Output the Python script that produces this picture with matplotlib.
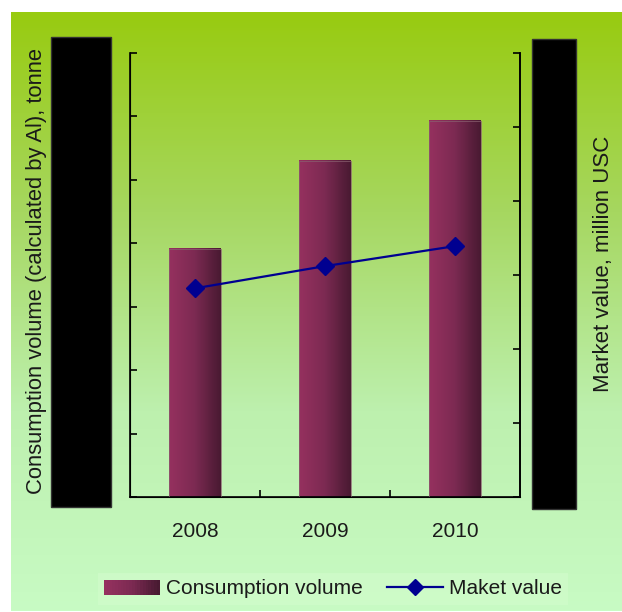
import numpy as np
import matplotlib
matplotlib.use('Agg')
import matplotlib.pyplot as plt
from matplotlib.patches import Rectangle
from matplotlib.lines import Line2D
from matplotlib.colors import LinearSegmentedColormap
from matplotlib.legend_handler import HandlerBase

plt.rcParams['font.family'] = ['Liberation Sans', 'DejaVu Sans']

years = ['2008', '2009', '2010']
consumption = [39100, 53000, 59300]   # tonne (left axis)
market_value = [282, 312, 339]        # million USD (right axis)

fig = plt.figure(figsize=(6.22, 6.12), dpi=100)
fig.patch.set_facecolor('white')

# background gradient
bg = fig.add_axes([11 / 622, 1 / 612, 611 / 622, 599 / 612], zorder=-10)
bg_cmap = LinearSegmentedColormap.from_list(
    'bg', ['#98cb10', '#a6d760', '#bdf0ae', '#c8fbc4'])
bg.imshow(np.linspace(0, 1, 256).reshape(-1, 1), aspect='auto', cmap=bg_cmap,
          extent=[0, 1, 0, 1], origin='upper')
bg.axis('off')

ax = fig.add_axes([130 / 622, 115 / 612, 390 / 622, 444 / 612])
ax.patch.set_alpha(0)
x = np.arange(len(years))
bars = ax.bar(x, consumption, width=0.4, color='none', edgecolor='#8a6070',
              linewidth=0.5, zorder=3)
bar_cmap = LinearSegmentedColormap.from_list('bar', ['#95315f', '#7c2a52', '#491a32'])
for b in bars:
    ax.imshow(np.linspace(0, 1, 64).reshape(1, -1), cmap=bar_cmap, aspect='auto',
              extent=[b.get_x(), b.get_x() + b.get_width(), 0, b.get_height()],
              zorder=2)
ax.set_xlim(-0.5, 2.5)
ax.set_ylim(0, 70000)
ax.set_yticks(np.arange(0, 70001, 10000))
ax.set_xticks(x)
ax.set_xticklabels(years, fontsize=15, color='#1a1a1a')
ax.set_xticks([0.5, 1.5], minor=True)
ax.tick_params(axis='x', which='major', length=0, pad=18)
ax.tick_params(axis='x', which='minor', direction='in', length=5, width=1.2)
ax.tick_params(axis='y', direction='in', length=5, width=1.2, labelleft=False)
ax.spines['top'].set_visible(False)
for s in ['left', 'bottom', 'right']:
    ax.spines[s].set_linewidth(1.2)

ax2 = ax.twinx()
ax2.plot(x, market_value, color='#000090', linewidth=1.6, marker='D',
         markersize=9, zorder=5)
ax2.set_ylim(0, 600)
ax2.set_yticks(np.arange(0, 601, 100))
ax2.tick_params(axis='y', direction='in', length=5, width=1.2, labelright=False)
ax2.spines['top'].set_visible(False)
ax2.spines['right'].set_linewidth(1.2)

# redaction boxes over the tick labels
fig.patches.append(Rectangle((51 / 622, (612 - 507) / 612), 60 / 622, 470 / 612,
                             transform=fig.transFigure, facecolor='black',
                             edgecolor='#333333', zorder=20))
fig.patches.append(Rectangle((532 / 622, (612 - 509) / 612), 44 / 622, 470 / 612,
                             transform=fig.transFigure, facecolor='black',
                             edgecolor='#333333', zorder=20))

fig.text(37 / 622, (612 - 271) / 612, 'Consumption volume (calculated by Al), tonne',
         rotation=90, ha='center', va='center', fontsize=15.8, color='#1a1a1a')
fig.text(603 / 622, (612 - 264) / 612, 'Market value, million USC',
         rotation=90, ha='center', va='center', fontsize=16, color='#1a1a1a')


class GradientHandler(HandlerBase):
    # legend key drawn as thin vertical strips, left pink to right dark
    def create_artists(self, legend, orig_handle, xdescent, ydescent,
                       width, height, fontsize, trans):
        n = 20
        out = []
        for i in range(n):
            c = bar_cmap(i / (n - 1))
            out.append(Rectangle((-xdescent + width * i / n, -ydescent),
                                 width / n * 1.05, height, facecolor=c,
                                 edgecolor='none', transform=trans))
        return out


bar_key = Rectangle((0, 0), 1, 1, facecolor='#7a2850')
line_key = Line2D([], [], color='#000090', marker='D', markersize=8, linewidth=1.6)
leg = fig.legend([bar_key, line_key], ['Consumption volume', 'Maket value'], ncol=2,
                 loc='center', bbox_to_anchor=(333 / 622, (612 - 589) / 612),
                 fontsize=15, frameon=True, fancybox=False, handlelength=2.65,
                 handletextpad=0.3, columnspacing=1.2, borderpad=0.3,
                 handler_map={Rectangle: GradientHandler()})
leg.get_frame().set_facecolor('#d2fccc')
leg.get_frame().set_edgecolor('none')
leg.get_frame().set_alpha(0.6)
for t in leg.get_texts():
    t.set_color('#1a1a1a')

fig.savefig('out.png', dpi=100)
